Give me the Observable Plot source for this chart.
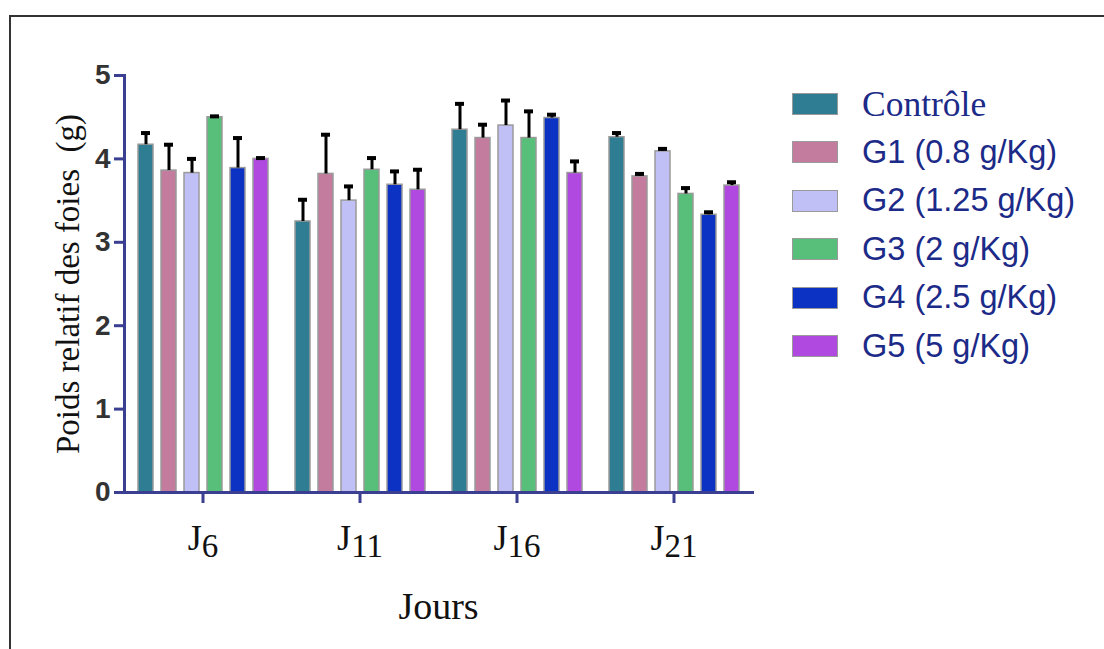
<!DOCTYPE html>
<html>
<head>
<meta charset="utf-8">
<script src="https://cdn.jsdelivr.net/npm/d3@7"></script>
<script src="https://cdn.jsdelivr.net/npm/@observablehq/plot@0.6"></script>
<style>
  html, body { margin: 0; padding: 0; background: #fff; }
  #wrap { position: relative; width: 1104px; height: 649px; overflow: hidden; background: #fff; }
  #frame { position: absolute; left: 9px; top: 15px; right: -10px; bottom: -10px;
           border-top: 2.5px solid #333; border-left: 2.5px solid #333; pointer-events: none; }
  #chart { position: absolute; left: 0; top: 0; }
  #legend { position: absolute; left: 792px; top: 80px; }
  .row { position: absolute; left: 0; height: 48px; display: flex; align-items: center; white-space: nowrap; }
  .sw { width: 44px; height: 20px; border: 1.5px solid #9a9a9a; box-sizing: content-box; }
  .lab { position: absolute; left: 70px; color: #1c2a88; font-family: "Liberation Sans", Arial, sans-serif; font-size: 32.5px; }
  .lab.serif { font-family: "Liberation Serif", "Times New Roman", serif; font-size: 35.5px; }
</style>
</head>
<body>
<div id="wrap">
  <div id="chart"></div>
  <div id="legend"></div>
  <div id="frame"></div>
</div>
<script>
// ---- data ----
const days = ["J6", "J11", "J16", "J21"];
const groups = ["Contrôle", "G1 (0.8 g/Kg)", "G2 (1.25 g/Kg)", "G3 (2 g/Kg)", "G4 (2.5 g/Kg)", "G5 (5 g/Kg)"];
const colors = ["#2f7d93", "#c37c9e", "#c0c0f6", "#57bf79", "#0b32c2", "#b049e0"];

const controle = [4.17, 3.25, 4.35, 4.26];
const g1 = [3.86, 3.82, 4.25, 3.79];
const g2 = [3.83, 3.50, 4.40, 4.09];
const g3 = [4.50, 3.87, 4.25, 3.58];
const g4 = [3.89, 3.69, 4.49, 3.33];
const g5 = [4.00, 3.63, 3.83, 3.68];

const errControle = [0.14, 0.26, 0.31, 0.05];
const errG1 = [0.31, 0.47, 0.16, 0.03];
const errG2 = [0.17, 0.17, 0.30, 0.03];
const errG3 = [0.01, 0.14, 0.32, 0.07];
const errG4 = [0.36, 0.16, 0.04, 0.03];
const errG5 = [0.01, 0.24, 0.14, 0.04];

const yTicks = [0, 1, 2, 3, 4, 5];
const yLabel = "Poids relatif des foies  (g)";
const xLabel = "Jours";

// ---- table ----
const series = [controle, g1, g2, g3, g4, g5];
const errors = [errControle, errG1, errG2, errG3, errG4, errG5];
const rows = days.flatMap((d, i) => groups.map((g, j) => ({
  day: d, group: g, value: series[j][i], hi: series[j][i] + errors[j][i]
})));

const navy = "#3a3f91";
const serif = "Liberation Serif, Times New Roman, serif";

const plot = Plot.plot({
  width: 1104,
  height: 649,
  marginLeft: 124,
  marginRight: 352,
  marginTop: 75,
  marginBottom: 157,
  style: { background: "transparent", overflow: "visible" },
  fx: { domain: days, padding: 0 },
  x: { domain: groups, paddingInner: 0.36, paddingOuter: 0.5, axis: null },
  y: { domain: [0, 5] },
  color: { domain: groups, range: colors },
  marks: [
    Plot.barY(rows, { fx: "day", x: "group", y: "value", fill: "group", stroke: "#9a9a9a", strokeWidth: 1.5 }),
    Plot.ruleX(rows, { fx: "day", x: "group", y1: "value", y2: "hi", stroke: "#000", strokeWidth: 3 }),
    Plot.tickY(rows, { fx: "day", x: "group", y: "hi", stroke: "#000", strokeWidth: 4, insetLeft: 3, insetRight: 3 }),
    Plot.frame({ anchor: "left", facet: "super", stroke: navy, strokeWidth: 3 }),
    Plot.frame({ anchor: "bottom", facet: "super", stroke: navy, strokeWidth: 3 }),
    Plot.axisY({ ticks: yTicks, tickFormat: d3.format("d"), tickSize: 10, tickPadding: 4, label: null, stroke: navy, strokeWidth: 3,
                 fill: "#333", fontSize: 28, fontWeight: "bold", fontFamily: "Liberation Sans, Arial, sans-serif" }),
    Plot.axisFx({ anchor: "bottom", tickSize: 11, tickPadding: 21, label: null, stroke: navy, strokeWidth: 3,
                  fill: "#111", fontSize: 36, fontFamily: serif }),
    Plot.text([yLabel], { facet: "super", frameAnchor: "left", textAnchor: "middle", rotate: -90, dx: -56, text: d => d,
                          fontSize: 33, fill: "#111", fontFamily: serif }),
    Plot.text([xLabel], { facet: "super", frameAnchor: "bottom", lineAnchor: "top", dy: 100, text: d => d,
                          fontSize: 38, fill: "#111", fontFamily: serif })
  ]
});

document.getElementById("chart").appendChild(plot);

// subscript day numbers in tick labels
d3.select(plot).selectAll("text").each(function () {
  const t = this.textContent;
  const m = /^J(\d+)$/.exec(t);
  if (m) {
    const sel = d3.select(this);
    sel.text("J");
    sel.append("tspan").attr("font-size", 33).attr("dy", 7).text(m[1]);
  }
});
d3.select(plot).selectAll("text").filter(function () { return this.textContent === yLabel; })
  .style("white-space", "pre");

// legend
const legend = d3.select("#legend");
groups.forEach((g, i) => {
  const row = legend.append("div").attr("class", "row").style("top", (i * 48.4) + "px");
  row.append("div").attr("class", "sw").style("background", colors[i]);
  row.append("div").attr("class", i === 0 ? "lab serif" : "lab").text(g);
});
</script>
</body>
</html>
